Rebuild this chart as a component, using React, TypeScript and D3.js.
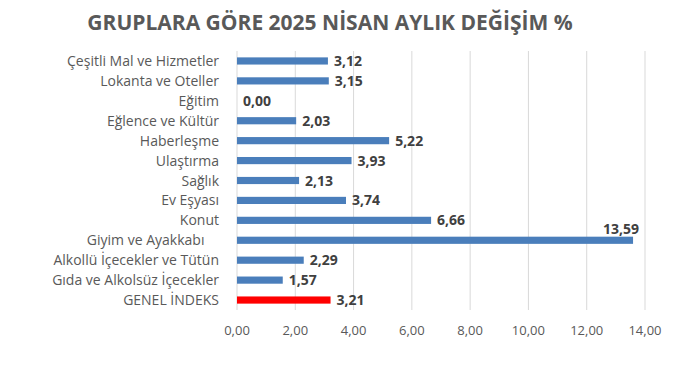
import * as d3 from "d3";

const width = 695;
const height = 366;

const categories = [
  "Çeşitli Mal ve Hizmetler",
  "Lokanta ve Oteller",
  "Eğitim",
  "Eğlence ve Kültür",
  "Haberleşme",
  "Ulaştırma",
  "Sağlık",
  "Ev Eşyası",
  "Konut",
  "Giyim ve Ayakkabı\u00a0\u00a0\u00a0\u00a0",
  "Alkollü İçecekler ve Tütün",
  "Gıda ve Alkolsüz İçecekler",
  "GENEL İNDEKS",
];
const values = [3.12, 3.15, 0.0, 2.03, 5.22, 3.93, 2.13, 3.74, 6.66, 13.59, 2.29, 1.57, 3.21];
const ticks = [0, 2, 4, 6, 8, 10, 12, 14];

const fmt = (v: number) => v.toFixed(2).replace(".", ",");

export default function App() {
  const x = d3.scaleLinear().domain([0, 14]).range([237, 645]);
  const y = d3
    .scaleBand()
    .domain(categories)
    .range([51, 310])
    .paddingInner(0.64)
    .paddingOuter(0.32);
  const font = "'Open Sans', sans-serif";

  return (
    <svg width={width} height={height} style={{ position: "absolute", left: 0, top: 0 }} fontFamily={font}>
      <rect width={width} height={height} fill="#fff" />
      <text x={330} y={30} textAnchor="middle" fontSize={21} fontWeight="bold" fill="#595959">
        GRUPLARA GÖRE 2025 NİSAN AYLIK DEĞİŞİM %
      </text>
      <g>
        {ticks.map((t) => (
          <line key={t} x1={x(t)} x2={x(t)} y1={51} y2={310} stroke="#d9d9d9" strokeWidth={1} />
        ))}
      </g>
      <g>
        {categories.map((c, i) => (
          <rect
            key={c}
            x={x(0)}
            y={y(c)}
            width={x(values[i]) - x(0)}
            height={y.bandwidth()}
            fill={i === categories.length - 1 ? "#ff0000" : "#4a7ebb"}
          />
        ))}
      </g>
      <g>
        {categories.map((c) => (
          <text
            key={c}
            x={219}
            y={(y(c) ?? 0) + y.bandwidth() / 2 + 5}
            textAnchor="end"
            fontSize={14}
            fill="#595959"
            style={{ whiteSpace: "pre" }}
          >
            {c}
          </text>
        ))}
      </g>
      <g>
        {categories.map((c, i) => {
          const cy = (y(c) ?? 0) + y.bandwidth() / 2;
          const over = x(values[i]) + 40 > x(14);
          return (
            <text
              key={c}
              x={x(values[i]) + 6}
              y={over ? cy - 6 : cy + 5}
              textAnchor={over ? "end" : "start"}
              fontSize={14}
              fontWeight="bold"
              fill="#404040"
            >
              {fmt(values[i])}
            </text>
          );
        })}
      </g>
      <g>
        {ticks.map((t) => (
          <text key={t} x={x(t)} y={335} textAnchor="middle" fontSize={13} fill="#595959">
            {fmt(t)}
          </text>
        ))}
      </g>
    </svg>
  );
}
